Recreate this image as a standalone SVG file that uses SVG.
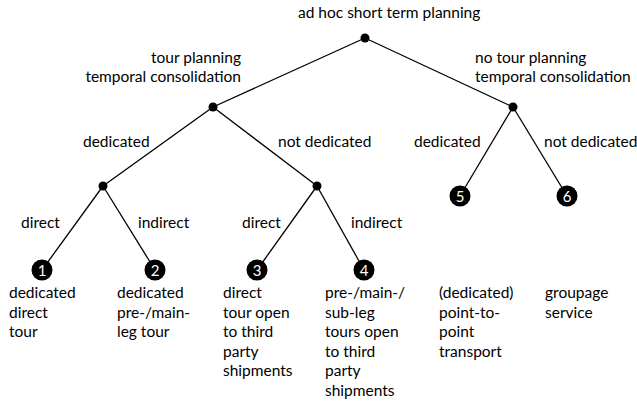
<svg xmlns="http://www.w3.org/2000/svg" width="637" height="402" viewBox="0 0 637 402">
  <style>
    text { font-family: Lato, "Open Sans", "Liberation Sans", sans-serif; font-size: 15.5px; fill: #000; }
    .end { text-anchor: end; }
    .num { fill: #fff; text-anchor: middle; font-size: 15px; }
    .edge { stroke: #000; stroke-width: 1.3; fill: none; }
    .dot { fill: #000; }
  </style>

  <!-- connectors -->
  <g id="connectors">
    <line class="edge" x1="365" y1="38" x2="213" y2="107"/>
    <line class="edge" x1="365" y1="38" x2="513" y2="107"/>
    <line class="edge" x1="213" y1="107" x2="103" y2="186"/>
    <line class="edge" x1="213" y1="107" x2="317" y2="186"/>
    <line class="edge" x1="513" y1="107" x2="460" y2="196"/>
    <line class="edge" x1="513" y1="107" x2="567" y2="196"/>
    <line class="edge" x1="103" y1="186" x2="42" y2="270"/>
    <line class="edge" x1="103" y1="186" x2="155" y2="270"/>
    <line class="edge" x1="317" y1="186" x2="257" y2="270"/>
    <line class="edge" x1="317" y1="186" x2="364" y2="270"/>
  </g>

  <!-- edge labels -->
  <g id="edge-labels">
    <text x="241" y="63" class="end">tour planning</text>
    <text x="241" y="82" class="end">temporal consolidation</text>
    <text x="475" y="63">no tour planning</text>
    <text x="475" y="82">temporal consolidation</text>
    <text x="83" y="147">dedicated</text>
    <text x="278" y="147">not dedicated</text>
    <text x="414" y="147">dedicated</text>
    <text x="544" y="147">not dedicated</text>
    <text x="21" y="228">direct</text>
    <text x="138" y="228">indirect</text>
    <text x="242" y="228">direct</text>
    <text x="351" y="228">indirect</text>
  </g>

  <!-- root -->
  <g id="root">
    <text x="298" y="18">ad hoc short term planning</text>
    <circle class="dot" cx="365" cy="38" r="4.5"/>
  </g>

  <g id="tour-planning">
    <circle class="dot" cx="213" cy="107" r="4.5"/>
  </g>
  <g id="no-tour-planning">
    <circle class="dot" cx="513" cy="107" r="4.5"/>
  </g>
  <g id="dedicated">
    <circle class="dot" cx="103" cy="186" r="4.5"/>
  </g>
  <g id="not-dedicated">
    <circle class="dot" cx="317" cy="186" r="4.5"/>
  </g>

  <!-- leaves -->
  <g id="leaf-1">
    <circle class="dot" cx="42" cy="270" r="10.5"/>
    <text x="42" y="275.5" class="num">1</text>
    <text x="9" y="298">dedicated</text>
    <text x="9" y="318">direct</text>
    <text x="9" y="337">tour</text>
  </g>
  <g id="leaf-2">
    <circle class="dot" cx="155" cy="270" r="10.5"/>
    <text x="155" y="275.5" class="num">2</text>
    <text x="117" y="298">dedicated</text>
    <text x="117" y="318">pre-/main-</text>
    <text x="117" y="337">leg tour</text>
  </g>
  <g id="leaf-3">
    <circle class="dot" cx="257" cy="270" r="10.5"/>
    <text x="257" y="275.5" class="num">3</text>
    <text x="223" y="298">direct</text>
    <text x="223" y="318">tour open</text>
    <text x="223" y="337">to third</text>
    <text x="223" y="357">party</text>
    <text x="223" y="376">shipments</text>
  </g>
  <g id="leaf-4">
    <circle class="dot" cx="364" cy="270" r="10.5"/>
    <text x="364" y="275.5" class="num">4</text>
    <text x="325" y="298">pre-/main-/</text>
    <text x="325" y="318">sub-leg</text>
    <text x="325" y="337">tours open</text>
    <text x="325" y="357">to third</text>
    <text x="325" y="376">party</text>
    <text x="325" y="396">shipments</text>
  </g>
  <g id="leaf-5">
    <circle class="dot" cx="460" cy="196" r="10.5"/>
    <text x="460" y="201.5" class="num">5</text>
    <text x="439" y="298">(dedicated)</text>
    <text x="439" y="318">point-to-</text>
    <text x="439" y="337">point</text>
    <text x="439" y="357">transport</text>
  </g>
  <g id="leaf-6">
    <circle class="dot" cx="567" cy="196" r="10.5"/>
    <text x="567" y="201.5" class="num">6</text>
    <text x="545" y="298">groupage</text>
    <text x="545" y="318">service</text>
  </g>
</svg>
